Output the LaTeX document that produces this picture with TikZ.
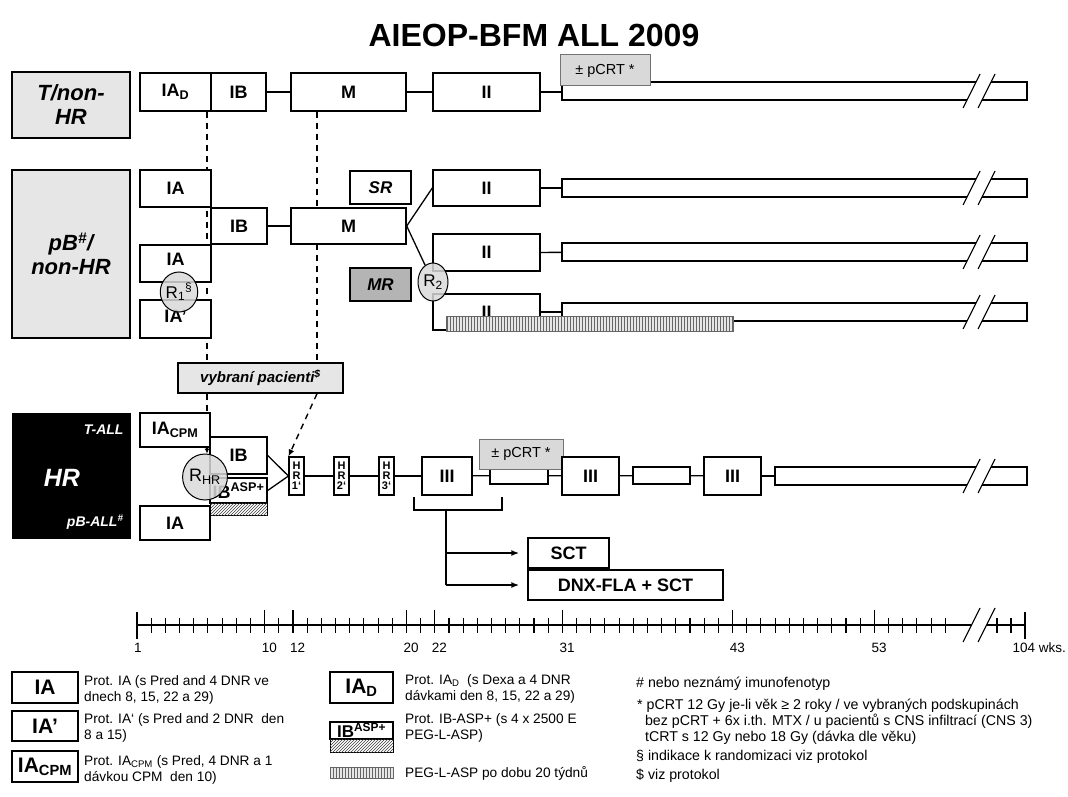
\documentclass[tikz,border=0pt]{standalone}
\usepackage{fontspec}
\setmainfont{Liberation Sans}
\usetikzlibrary{shapes.geometric,patterns,arrows.meta,backgrounds}
\definecolor{lgray}{HTML}{E6E6E6}
\definecolor{mgray}{HTML}{B4B4B4}
\definecolor{egray}{HTML}{D9D9D9}
\newcommand\myfs[1]{\fontsize{#1}{#1}\selectfont}
\newcommand\bx[7][]{%
 \pgfmathsetmacro\myw{#5-#3}\pgfmathsetmacro\myh{#6-#4}%
 \pgfmathsetmacro\mycx{(#3+#5)/2}\pgfmathsetmacro\mycy{(#4+#6)/2}%
 \node[box,minimum width=\myw pt,minimum height=\myh pt,#1] (#2) at (\mycx,\mycy) {#7};}
\newcommand\brk[1]{%
 \fill[white] (966.5,#1+10) -- (976.5,#1-10) -- (991.5,#1-10) -- (981.5,#1+10) -- cycle;
 \draw[line width=1.1pt] (963,#1+17) -- (980,#1-17) (978,#1+17) -- (995,#1-17);}
\begin{document}
\begin{tikzpicture}[x=1pt,y=-1pt,
 box/.style={draw,line width=1.4pt,fill=white,inner sep=0pt,font=\bfseries\myfs{18}},
 lab/.style={fill=lgray,font=\bfseries\itshape\fontsize{22}{24}\selectfont,align=center},
 conn/.style={line width=1.3pt},
 dsh/.style={line width=1.4pt,dash pattern=on 6pt off 5pt},
 rnd/.style={ellipse,draw,line width=1pt,fill=egray,fill opacity=0.85,text opacity=1,inner sep=0pt,font=\myfs{17}},
 crt/.style={draw=black!55,fill=egray,font=\myfs{14.5},line width=1pt},
 hrb/.style={font=\bfseries\fontsize{11}{10}\selectfont,align=center,line width=1.1pt},
 hatchd/.style={draw,line width=1pt,fill=white,postaction={pattern=north east lines,pattern color=black!75}},
 hatchv/.style={draw=black!60,line width=0.8pt,fill=lgray,postaction={pattern=vertical lines,pattern color=black!60}},
 legt/.style={anchor=west,align=left,font=\fontsize{13.7}{16}\selectfont,inner sep=0pt},
 legr/.style={anchor=west,align=left,font=\fontsize{14.2}{16}\selectfont,inner sep=0pt},
 tick/.style={line width=1.1pt}]
\useasboundingbox (0,0) rectangle (1068,797);
\node[font=\bfseries\myfs{32}] (title) at (534,35) {AIEOP-BFM ALL 2009};
\coordinate (dA) at (207,0);
\coordinate (dB) at (317,0);
% ---------- T/non-HR
\bx[lab]{tlab}{12}{72}{130}{138}{T/non-\\HR}
\bx{tiad}{140}{73}{211}{111}{IA\textsubscript{D}}
\bx{tib}{211}{73}{266}{111}{IB}
\bx{tm}{291}{73}{406}{111}{M}
\bx{tii}{433}{73}{540}{111}{II}
\bx{tbar}{562}{82}{1027}{100}{}
\brk{91}
\bx[crt]{tcrt}{560}{55}{650}{86}{± pCRT *}
\draw[conn] (tib) -- (tm);
\draw[conn] (tm) -- (tii);
\draw[conn] (tii.east) -- (tii.east -| tbar.west);
% ---------- pB/non-HR
\bx[lab]{plab}{12}{170}{130}{338}{pB\textsuperscript{\#}/\\non-HR}
\bx{pia1}{140}{170}{211}{207}{IA}
\bx{pib}{211}{208}{267}{244}{IB}
\bx[text depth=8pt]{pia2}{140}{245}{211}{282}{IA}
\bx[text height=6pt]{pia3}{140}{300}{211}{338}{IA’}
\node[rnd,minimum width=32pt,minimum height=40pt] (r1) at (179,292) {R\textsubscript{1}\textsuperscript{§}};
\bx{pm}{291}{208}{406}{244}{M}
\bx[font=\bfseries\itshape\myfs{17}]{psr}{350}{171}{411}{204}{SR}
\bx[fill=mgray,font=\bfseries\itshape\myfs{17}]{pmr}{350}{268}{411}{301}{MR}
\bx{pii1}{433}{170}{540}{206}{II}
\bx{pii2}{433}{234}{540}{271}{II}
\bx{pii3}{433}{294}{540}{330}{II}
\bx{pb1}{562}{179}{1027}{197}{}
\bx{pb2}{562}{243}{1027}{261}{}
\bx{pb3}{562}{303}{1027}{321}{}
\brk{188}
\brk{252}
\brk{312}
\draw[conn] (pib) -- (pm);
\draw[conn] (pm.east) -- (pii1.west);
\draw[conn] (pii1) -- (pb1);
\draw[conn] (pii2) -- (pb2);
\draw[conn] (pii3) -- (pb3);
\node[rnd,minimum width=30pt,minimum height=38pt] (r2) at (433,282) {R\textsubscript{2}};
\draw[conn] (pm.east) -- (r2);
\pgfmathsetmacro\myw{733-446}
\node[hatchv,minimum width=\myw pt,minimum height=15pt,inner sep=0pt] (peg) at (589.5,323.5) {};
% ---------- vybraní
\bx[lab,font=\bfseries\itshape\myfs{15}]{vyb}{178}{363}{343}{393}{vybraní pacienti\textsuperscript{\$}}
% ---------- HR
\node[draw,fill=black,minimum width=118pt,minimum height=125pt,inner sep=0pt] (hlab) at (71,475.5) {};
\node[anchor=east,text=white,font=\bfseries\itshape\myfs{14}] (tall) at (127,430) {T-ALL};
\node[text=white,font=\bfseries\itshape\myfs{25}] (hrl) at (62,478) {HR};
\node[anchor=east,text=white,font=\bfseries\itshape\myfs{14}] (pball) at (127,522) {pB-ALL\textsuperscript{\#}};
\bx{hcpm}{140}{413}{210}{447}{IA\textsubscript{CPM}}
\bx{hib}{210}{437}{267}{474}{IB}
\bx[font=\bfseries\myfs{18}]{hasp}{210}{478}{267}{503}{IB\textsuperscript{ASP+}}
\pgfmathsetmacro\myw{267-210}
\node[hatchd,minimum width=\myw pt,minimum height=12pt,inner sep=0pt] (hasph) at (238.5,509) {};
\bx{hia}{140}{506}{210}{540}{IA}
\node[rnd,minimum width=40pt,minimum height=46pt,font=\myfs{18}] (rhr) at (205,477) {R\textsubscript{HR}};
\draw[conn,-{Latex[length=5pt,width=5pt]}] (hcpm.south -| dA) -- (rhr.north -| dA);
\bx[hrb]{h1}{289}{457}{304}{495}{H\\R\\1‘}
\bx[hrb]{h2}{334}{457}{349}{495}{H\\R\\2‘}
\bx[hrb]{h3}{379}{457}{394}{495}{H\\R\\3‘}
\bx{h4}{422}{457}{472}{495}{III}
\bx{hs1}{490}{467}{548}{484}{}
\bx[crt]{hcrt}{479}{439}{563}{469}{± pCRT *}
\bx{h5}{562}{457}{619}{495}{III}
\bx{hs2}{633}{467}{690}{484}{}
\bx{h6}{704}{457}{761}{495}{III}
\bx{hbar}{775}{467}{1027}{485}{}
\brk{476}
\draw[conn] (hib.east) -- (h1.west);
\draw[conn] (hasp.east) -- (h1.west);
\draw[conn] (h1) -- (h2);
\draw[conn] (h2) -- (h3);
\draw[conn] (h3) -- (h4);
\draw[conn] (h4) -- (hs1);
\draw[conn] (hs1) -- (h5);
\draw[conn] (h5) -- (hs2);
\draw[conn] (hs2) -- (h6);
\draw[conn] (h6) -- (hbar);
% bracket and SCT
\bx[font=\bfseries\myfs{18}]{sct}{528}{538}{609}{568}{SCT}
\bx[font=\bfseries\myfs{18}]{dnx}{528}{570}{723}{600}{DNX-FLA + SCT}
\coordinate (bl) at (414,497);
\coordinate (br) at (502,497);
\coordinate (bv) at (446,510);
\draw[conn] (bl) -- (bl |- bv) -- (br |- bv) -- (br);
\draw[line width=2.2pt] (bv) -- (bv |- dnx.west);
\draw[line width=1.6pt,-{Latex[length=8pt,width=6pt]},shorten >=8pt] (bv |- sct.west) -- (sct.west);
\draw[line width=2.4pt,-{Latex[length=8pt,width=6pt]},shorten >=8pt] (bv |- dnx.west) -- (dnx.west);
% dashed connections
\begin{scope}[on background layer]
\draw[dsh] (tiad.south -| dA) -- (vyb.north -| dA);
\draw[dsh] (tm.south -| dB) -- (vyb.north -| dB);
\draw[dsh] (vyb.south -| dA) -- (hcpm.north -| dA);
\end{scope}
\draw[dsh,-{Latex[length=7pt,width=6pt]}] (vyb.south -| dB) -- (h1.north west);
% ---------- timeline
\coordinate (ts) at (137,625);
\coordinate (te) at (1025,625);
\draw[tick] (ts) -- (te);
\foreach \w in {2,...,58} {\draw[tick] ({137+(\w-1)*14.18},618) -- ++(0,15);}
\foreach \w in {10,12,20,22,31,43,53} {\draw[tick] ({137+(\w-1)*14.18},610) -- ++(0,23);}
\foreach \xx in {997,1011} {\draw[tick] (\xx,618) -- ++(0,15);}
\draw[tick] (137,612) -- (137,639);
\draw[tick] (1025,612) -- (1025,639);
\brk{625}
\foreach \w in {1,10,12,20,22,31,43,53} {\node[anchor=west,inner sep=0pt,font=\myfs{13.5}] (lab\w) at ({137+(\w-1)*14.18-3},648) {\w};}
\node[anchor=east,inner sep=0pt,font=\myfs{13.5}] (lab104) at (1066,648) {104 wks.};
% ---------- legend
\bx[font=\bfseries\myfs{21}]{lia}{12}{672}{78}{703}{IA}
\bx[font=\bfseries\myfs{21}]{liap}{12}{711}{78}{741}{IA’}
\bx[font=\bfseries\myfs{21}]{licpm}{12}{751}{78}{782}{IA\textsubscript{CPM}}
\bx[font=\bfseries\myfs{21}]{liad}{330}{672}{393}{703}{IA\textsubscript{D}}
\bx[font=\bfseries\myfs{17}]{lasp}{330}{722}{393}{739}{IB\textsuperscript{ASP+}}
\pgfmathsetmacro\myw{393-330}
\node[hatchd,minimum width=\myw pt,minimum height=13pt,inner sep=0pt] (lasph) at (361.5,745.5) {};
\node[hatchv,minimum width=\myw pt,minimum height=11pt,inner sep=0pt] (lpeg) at (361.5,773) {};
\node[legt] (lt1) at (84,690) {Prot. IA (s Pred and 4 DNR ve\\dnech 8, 15, 22 a 29)};
\node[legt] (lt2) at (84,728) {Prot. IA‘ (s Pred and 2 DNR~~den\\8 a 15)};
\node[legt] (lt3) at (84,770) {Prot. IA\textsubscript{CPM} (s Pred, 4 DNR a 1\\dávkou CPM~~den 10)};
\node[legt] (lt4) at (405,689) {Prot. IA\textsubscript{D}~~(s Dexa a 4 DNR\\dávkami den 8, 15, 22 a 29)};
\node[legt] (lt5) at (405,728) {Prot. IB-ASP+ (s 4 x 2500 E\\PEG-L-ASP)};
\node[legt] (lt6) at (405,773) {PEG-L-ASP po dobu 20 týdnů};
\node[legr] (lr1) at (636,684) {\# nebo neznámý imunofenotyp};
\node[legr] (lr2) at (637,722) {* pCRT 12 Gy je-li věk ≥ 2 roky / ve vybraných podskupinách\\\phantom{*\,}bez pCRT + 6x i.th. MTX / u pacientů s CNS infiltrací (CNS 3)\\\phantom{*\,}tCRT s 12 Gy nebo 18 Gy (dávka dle věku)};
\node[legr] (lr3) at (636,757) {§ indikace k randomizaci viz protokol};
\node[legr] (lr4) at (636,776) {\$ viz protokol};
\end{tikzpicture}
\end{document}
